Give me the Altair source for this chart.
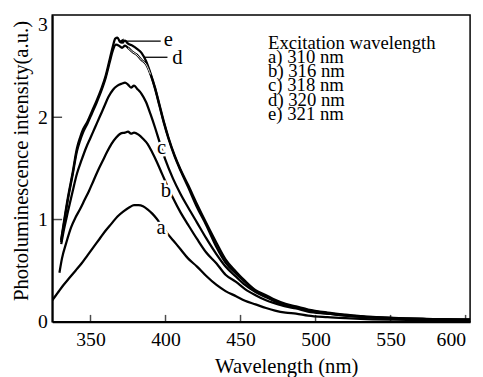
import altair as alt
import pandas as pd

# ---- data ----
wl_a = [324.5, 328, 332, 336, 340, 344, 348, 352, 356, 360, 364, 368, 372, 376, 379, 382, 385, 388, 391, 394, 397, 402, 406, 410, 415, 421, 427, 434, 440, 447, 453, 460, 467, 473, 480, 487, 495, 508, 520, 530, 552, 574, 600, 603]
int_a = [0.21, 0.28, 0.36, 0.43, 0.50, 0.57, 0.65, 0.73, 0.81, 0.89, 0.96, 1.03, 1.08, 1.12, 1.14, 1.14, 1.13, 1.10, 1.06, 1.01, 0.95, 0.85, 0.78, 0.71, 0.62, 0.54, 0.45, 0.36, 0.30, 0.25, 0.205, 0.17, 0.135, 0.11, 0.09, 0.08, 0.06, 0.045, 0.035, 0.028, 0.02, 0.016, 0.013, 0.013]

wl_b = [329.3, 331, 334, 337, 340, 343, 346, 349, 352, 355, 358, 361, 364, 367, 370, 373, 375, 377, 379, 382, 385, 388, 391, 394, 397, 400, 405, 410, 415, 421, 427, 434, 440, 447, 453, 460, 467, 473, 480, 487, 495, 508, 520, 530, 552, 574, 600, 603]
int_b = [0.48, 0.62, 0.78, 0.92, 1.02, 1.10, 1.19, 1.28, 1.38, 1.48, 1.57, 1.66, 1.74, 1.80, 1.84, 1.85, 1.86, 1.84, 1.85, 1.83, 1.79, 1.74, 1.66, 1.57, 1.47, 1.37, 1.21, 1.07, 0.95, 0.81, 0.68, 0.57, 0.46, 0.39, 0.32, 0.26, 0.21, 0.18, 0.15, 0.13, 0.10, 0.08, 0.06, 0.047, 0.032, 0.024, 0.018, 0.018]

wl_c = [330.5, 332, 335, 338, 341, 344, 347, 350, 353, 356, 359, 362, 365, 368, 371, 373, 375, 377, 379, 381, 384, 387, 390, 393, 396, 400, 405, 410, 415, 421, 427, 434, 440, 447, 453, 460, 467, 473, 480, 487, 495, 508, 520, 530, 552, 574, 600, 603]
int_c = [0.76, 0.88, 1.08, 1.27, 1.45, 1.58, 1.70, 1.80, 1.90, 2.00, 2.10, 2.20, 2.27, 2.31, 2.33, 2.34, 2.32, 2.29, 2.31, 2.28, 2.23, 2.15, 2.03, 1.90, 1.76, 1.58, 1.40, 1.25, 1.12, 0.97, 0.82, 0.66, 0.54, 0.44, 0.36, 0.29, 0.24, 0.20, 0.165, 0.14, 0.11, 0.08, 0.062, 0.05, 0.034, 0.026, 0.02, 0.02]

wl_d = [330.4, 332, 335, 338, 341, 343, 345, 348, 351, 354, 357, 360, 363, 365, 367, 369, 371, 373, 375, 378, 381, 384, 387, 390, 393, 396, 399, 402, 406, 410, 415, 421, 427, 434, 440, 447, 453, 460, 467, 473, 480, 487, 495, 508, 520, 530, 552, 574, 600, 603]
int_d = [0.78, 0.93, 1.20, 1.43, 1.67, 1.77, 1.85, 1.94, 2.04, 2.14, 2.25, 2.38, 2.55, 2.66, 2.71, 2.70, 2.68, 2.70, 2.68, 2.64, 2.61, 2.56, 2.52, 2.42, 2.28, 2.11, 1.94, 1.79, 1.62, 1.48, 1.32, 1.12, 0.95, 0.73, 0.58, 0.47, 0.39, 0.30, 0.25, 0.205, 0.165, 0.14, 0.115, 0.085, 0.065, 0.052, 0.036, 0.027, 0.02, 0.02]

wl_e = [330.4, 332, 335, 338, 341, 343, 345, 348, 351, 354, 357, 360, 363, 365, 366.5, 368, 369.5, 371, 373, 375, 378, 381, 384, 387, 390, 393, 396, 399, 402, 406, 410, 415, 421, 427, 434, 440, 447, 453, 460, 467, 473, 480, 487, 495, 508, 520, 530, 552, 574, 600, 603]
int_e = [0.80, 0.95, 1.22, 1.45, 1.70, 1.80, 1.88, 1.96, 2.06, 2.16, 2.27, 2.40, 2.58, 2.70, 2.77, 2.78, 2.74, 2.73, 2.75, 2.72, 2.70, 2.67, 2.63, 2.55, 2.43, 2.29, 2.12, 1.95, 1.80, 1.63, 1.49, 1.34, 1.15, 0.97, 0.77, 0.61, 0.49, 0.40, 0.31, 0.26, 0.215, 0.175, 0.15, 0.12, 0.09, 0.07, 0.055, 0.038, 0.029, 0.022, 0.02]

series_names = ["a", "b", "c", "d", "e"]
series_widths = [2.3, 2.3, 2.4, 3.0, 3.2]

curve_labels = ["a", "b", "c", "d", "e"]
label_wl = [397.0, 400.3, 397.4, 407.9, 401.9]
label_int = [0.856, 1.224, 1.64, 2.52, 2.70]

pointer_names = ["e", "d"]
pointer_wl1 = [370.6, 386.1]
pointer_wl2 = [396.8, 401.3]
pointer_int = [2.745, 2.587]

d_gap_range = [374, 390]   # part of curve d drawn as a hollow double line

x_ticks = [350, 400, 450, 500, 550, 600]
y_ticks = [0, 1, 2, 3]

legend_lines = ["Excitation wavelength", "a) 310 nm", "b) 316 nm", "c) 318 nm", "d) 320 nm", "e) 321 nm"]

# ---- build tables ----
rows = []
for name, wls, ints in zip(series_names, [wl_a, wl_b, wl_c, wl_d, wl_e], [int_a, int_b, int_c, int_d, int_e]):
    for w, v in zip(wls, ints):
        rows.append({"series": name, "wl": w, "val": v})
df = pd.DataFrame(rows)
d_inner = df[(df.series == "d") & (df.wl >= d_gap_range[0]) & (df.wl <= d_gap_range[1])]

lab_df = pd.DataFrame({"lab": curve_labels, "wl": label_wl, "val": label_int})
ptr_df = pd.DataFrame({"name": pointer_names, "wl1": pointer_wl1, "wl2": pointer_wl2, "val": pointer_int})
arrow_df = ptr_df[ptr_df.name == "e"]
xt_df = pd.DataFrame({"t": x_ticks})
yt_df = pd.DataFrame({"t": [t for t in y_ticks if 0 < t < 3]})
leg_df = pd.DataFrame({"k": [0]})

W, H = 425, 312
FONT = "Liberation Serif"

xscale = alt.Scale(domain=[324.5, 603], nice=False, zero=False)
yscale = alt.Scale(domain=[0, 3], nice=False, zero=False)

xaxis = alt.Axis(values=x_ticks, format="d", tickSize=0, labelPadding=8, labelFlush=10,
                 title="Wavelength (nm)", titleX=238, titleY=52, titleBaseline="alphabetic",
                 titleAlign="center")
yaxis = alt.Axis(values=y_ticks, format="d", tickSize=0, labelPadding=5,
                 labelBaseline={"expr": "datum.value == 3 ? 'top' : 'middle'"},
                 title="Photoluminescence intensity(a.u.)", titleAngle=-90,
                 titleX=-25, titleY=148, titleBaseline="alphabetic", titleAlign="center")

lines = alt.Chart(df).mark_line(color="black", interpolate="monotone", clip=True).encode(
    x=alt.X("wl:Q", scale=xscale, axis=xaxis),
    y=alt.Y("val:Q", scale=yscale, axis=yaxis),
    detail="series:N",
    strokeWidth=alt.StrokeWidth("series:N", scale=alt.Scale(domain=series_names, range=series_widths), legend=None),
)

d_hollow = alt.Chart(d_inner).mark_line(color="white", strokeWidth=0.9, interpolate="monotone").encode(
    x=alt.X("wl:Q", scale=xscale), y=alt.Y("val:Q", scale=yscale)
)

pointers = alt.Chart(ptr_df).mark_rule(color="black", strokeWidth=1.3).encode(
    x=alt.X("wl1:Q", scale=xscale), x2="wl2:Q", y=alt.Y("val:Q", scale=yscale)
)
arrow = alt.Chart(arrow_df).mark_point(shape="triangle-left", filled=True, color="black",
                                       size=28, opacity=1).encode(
    x=alt.X("wl1:Q", scale=xscale), y=alt.Y("val:Q", scale=yscale)
)

halo = alt.Chart(lab_df).mark_text(font=FONT, fontSize=21, stroke="white", strokeWidth=5,
                                   color="white", baseline="alphabetic", align="center").encode(
    x=alt.X("wl:Q", scale=xscale), y=alt.Y("val:Q", scale=yscale), text="lab:N"
)
labels = alt.Chart(lab_df).mark_text(font=FONT, fontSize=21, color="black",
                                     baseline="alphabetic", align="center").encode(
    x=alt.X("wl:Q", scale=xscale), y=alt.Y("val:Q", scale=yscale), text="lab:N"
)

xt = alt.Chart(xt_df).mark_tick(orient="vertical", color="black", thickness=1.5, size=7).encode(
    x=alt.X("t:Q", scale=xscale), y=alt.value(H - 3.5)
)
yt = alt.Chart(yt_df).mark_tick(orient="horizontal", color="black", thickness=1.5, size=10).encode(
    y=alt.Y("t:Q", scale=yscale), x=alt.value(5)
)

legend = alt.Chart(leg_df).mark_text(text=legend_lines, font=FONT, fontSize=19, lineHeight=14.4,
                                     align="left", baseline="alphabetic", color="black").encode(
    x=alt.value(219.5), y=alt.value(34.5)
)

chart = alt.layer(lines, d_hollow, pointers, arrow, halo, labels, xt, yt, legend).properties(
    width=W, height=H,
    autosize=alt.AutoSizeParams(type="none"),
    padding={"left": 45, "top": 4, "right": 5, "bottom": 53},
).configure_view(stroke="black", strokeWidth=1.5).configure_axis(
    labelFont=FONT, labelFontSize=20, labelColor="black",
    titleFont=FONT, titleFontSize=21, titleFontWeight="normal", titleColor="black",
    domainColor="black", domainWidth=2, grid=False,
)

chart.save("out.html", embed_options={"renderer": "svg", "actions": False})
